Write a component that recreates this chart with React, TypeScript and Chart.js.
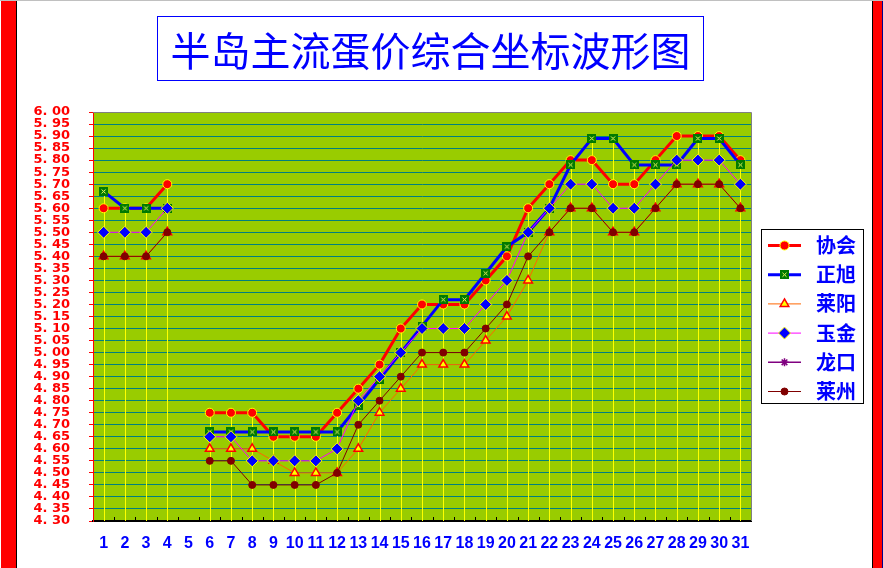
import React, { useEffect, useRef } from 'react';
import Chart from 'chart.js/auto';
import { drawPoint } from 'chart.js/helpers';

// days of the month, day 5 has no quotes
const days = ['1', '2', '3', '4', '5', '6', '7', '8', '9', '10', '11', '12', '13', '14', '15', '16',
    '17', '18', '19', '20', '21', '22', '23', '24', '25', '26', '27', '28', '29', '30', '31'];

const xiehui = [5.60, 5.60, 5.60, 5.70, null, 4.75, 4.75, 4.75, 4.65, 4.65, 4.65, 4.75, 4.85, 4.95, 5.10, 5.20,
    5.20, 5.20, 5.30, 5.40, 5.60, 5.70, 5.80, 5.80, 5.70, 5.70, 5.80, 5.90, 5.90, 5.90, 5.80];
const zhengxu = [5.67, 5.60, 5.60, 5.60, null, 4.67, 4.67, 4.67, 4.67, 4.67, 4.67, 4.67, 4.78, 4.89, 5.00, 5.11,
    5.22, 5.22, 5.33, 5.44, 5.50, 5.60, 5.78, 5.89, 5.89, 5.78, 5.78, 5.78, 5.89, 5.89, 5.78];
const laiyang = [5.40, 5.40, 5.40, 5.50, null, 4.60, 4.60, 4.60, 4.55, 4.50, 4.50, 4.50, 4.60, 4.75, 4.85, 4.95,
    4.95, 4.95, 5.05, 5.15, 5.30, 5.50, 5.60, 5.60, 5.50, 5.50, 5.60, 5.70, 5.70, 5.70, 5.60];
const yujin = [5.50, 5.50, 5.50, 5.60, null, 4.65, 4.65, 4.55, 4.55, 4.55, 4.55, 4.60, 4.80, 4.90, 5.00, 5.10,
    5.10, 5.10, 5.20, 5.30, 5.50, 5.60, 5.70, 5.70, 5.60, 5.60, 5.70, 5.80, 5.80, 5.80, 5.70];
const longkou = [null, null, null, null, null, null, null, null, null, null, null, null, null, null, null, null,
    null, null, null, null, null, null, null, null, null, null, null, null, null, null, null];
const laizhou = [5.40, 5.40, 5.40, 5.50, null, 4.55, 4.55, 4.45, 4.45, 4.45, 4.45, 4.50, 4.70, 4.80, 4.90, 5.00,
    5.00, 5.00, 5.10, 5.20, 5.40, 5.50, 5.60, 5.60, 5.50, 5.50, 5.60, 5.70, 5.70, 5.70, 5.60];

const Y_MIN = 4.3;
const Y_MAX = 6.0;
const Y_STEP = 0.05;

const TITLE = '半岛主流蛋价综合坐标波形图';

// green square with a yellow cross (正旭 marker)
const makeCrossSquare = () => {
    const c = document.createElement('canvas');
    c.width = 9;
    c.height = 9;
    const g = c.getContext('2d')!;
    g.fillStyle = '#007a00';
    g.fillRect(0, 0, 9, 9);
    g.strokeStyle = '#ffff66';
    g.lineWidth = 1;
    g.beginPath();
    g.moveTo(2.5, 2.5); g.lineTo(6.5, 6.5);
    g.moveTo(6.5, 2.5); g.lineTo(2.5, 6.5);
    g.stroke();
    return c;
};

const plotDecor = {
    id: 'plotDecor',
    beforeDraw(chart: any) {
        const { ctx, chartArea: a } = chart;
        ctx.save();
        ctx.fillStyle = '#99cc00';
        ctx.fillRect(a.left, a.top, a.right - a.left, a.bottom - a.top);
        ctx.restore();
    },
    beforeDatasetsDraw(chart: any) {
        const { ctx, chartArea: a, scales } = chart;
        const xs = scales.x, ys = scales.y;
        ctx.save();
        // drop lines from the highest value of each day
        ctx.strokeStyle = '#ffff00';
        ctx.lineWidth = 1;
        for (let i = 0; i < days.length; i++) {
            let top: number | null = null;
            chart.data.datasets.forEach((ds: any) => {
                const v = ds.data[i];
                if (v != null && (top == null || v > top)) top = v;
            });
            if (top == null) continue;
            const x = Math.round(xs.getPixelForValue(i)) + 0.5;
            ctx.beginPath();
            ctx.moveTo(x, ys.getPixelForValue(top));
            ctx.lineTo(x, a.bottom);
            ctx.stroke();
        }
        // grey frame on top / right
        ctx.strokeStyle = '#808080';
        ctx.beginPath();
        ctx.moveTo(a.left, a.top + 0.5);
        ctx.lineTo(a.right + 0.5, a.top + 0.5);
        ctx.lineTo(a.right + 0.5, a.bottom);
        ctx.stroke();
        // inward tick marks between categories
        ctx.strokeStyle = '#000000';
        for (let i = 1; i < days.length; i++) {
            const x = Math.round((xs.getPixelForValue(i - 1) + xs.getPixelForValue(i)) / 2) + 0.5;
            ctx.beginPath();
            ctx.moveTo(x, a.bottom - 4);
            ctx.lineTo(x, a.bottom);
            ctx.stroke();
        }
        ctx.restore();
    },
    afterDraw(chart: any) {
        const { ctx } = chart;
        const bx = 761.5, by = 229.5, bw = 102, bh = 174;
        ctx.save();
        ctx.fillStyle = '#ffffff';
        ctx.fillRect(bx, by, bw, bh);
        ctx.strokeStyle = '#000000';
        ctx.lineWidth = 1;
        ctx.strokeRect(bx, by, bw, bh);
        chart.data.datasets.forEach((ds: any, i: number) => {
            const y = 245.5 + i * 29.2;
            ctx.strokeStyle = ds.borderColor;
            ctx.lineWidth = ds.borderWidth;
            ctx.beginPath();
            ctx.moveTo(768, y);
            ctx.lineTo(801, y);
            ctx.stroke();
            ctx.fillStyle = ds.pointBackgroundColor;
            ctx.strokeStyle = ds.pointBorderColor;
            ctx.lineWidth = ds.pointBorderWidth;
            drawPoint(ctx, { pointStyle: ds.pointStyle, rotation: 0, radius: ds.pointRadius, borderWidth: ds.pointBorderWidth }, 784.5, y);
            ctx.fillStyle = '#0000ff';
            ctx.font = 'bold 20px "Noto Sans CJK SC"';
            ctx.textBaseline = 'middle';
            ctx.textAlign = 'left';
            ctx.fillText(ds.label, 816, y);
        });
        ctx.restore();
    },
};

const EggPriceChart = () => {
    const canvasRef = useRef<HTMLCanvasElement>(null);

    useEffect(() => {
        if (!canvasRef.current) return;
        const crossSquare = makeCrossSquare();
        const n = 6;
        const chart = new Chart(canvasRef.current, {
            type: 'line',
            data: {
                labels: days,
                datasets: [
                    { label: '协会', data: xiehui, borderColor: '#ff0000', borderWidth: 3, pointStyle: 'circle', pointRadius: 4.5, pointBackgroundColor: '#ff0000', pointBorderColor: '#ffff00', pointBorderWidth: 1, order: n },
                    { label: '正旭', data: zhengxu, borderColor: '#0000ff', borderWidth: 3, pointStyle: crossSquare, pointRadius: 4.5, pointBackgroundColor: '#007a00', pointBorderColor: '#007a00', pointBorderWidth: 0, order: n - 1 },
                    { label: '莱阳', data: laiyang, borderColor: '#ff6600', borderWidth: 1, pointStyle: 'triangle', pointRadius: 5, pointBackgroundColor: '#ffff00', pointBorderColor: '#ff0000', pointBorderWidth: 1.5, order: n - 2 },
                    { label: '玉金', data: yujin, borderColor: '#ff00ff', borderWidth: 1, pointStyle: 'rectRot', pointRadius: 6, pointBackgroundColor: '#0000ff', pointBorderColor: '#ffff00', pointBorderWidth: 1, order: n - 3 },
                    { label: '龙口', data: longkou, borderColor: '#800080', borderWidth: 1.5, pointStyle: 'star', pointRadius: 4, pointBackgroundColor: '#800080', pointBorderColor: '#800080', pointBorderWidth: 1.5, order: n - 4 },
                    { label: '莱州', data: laizhou, borderColor: '#800000', borderWidth: 1, pointStyle: 'circle', pointRadius: 3.5, pointBackgroundColor: '#800000', pointBorderColor: '#800000', pointBorderWidth: 1, order: n - 5 },
                ] as any,
            },
            options: {
                animation: false,
                responsive: false,
                events: [],
                spanGaps: false,
                elements: { line: { tension: 0 } },
                layout: { padding: { left: 33, top: 112, right: 132, bottom: 0 } },
                plugins: { legend: { display: false }, tooltip: { enabled: false }, title: { display: false } },
                scales: {
                    x: {
                        type: 'category',
                        offset: true,
                        afterFit: (s: any) => { s.height = 47; },
                        grid: { display: true, drawOnChartArea: false, drawTicks: false, color: 'transparent' },
                        border: { display: true, color: '#000000', width: 2 },
                        ticks: {
                            autoSkip: false,
                            maxRotation: 0,
                            padding: 13,
                            color: '#0000ff',
                            font: { family: '"Liberation Sans", Arial, sans-serif', size: 16, weight: 'bold' },
                        },
                    },
                    y: {
                        min: Y_MIN,
                        max: Y_MAX,
                        afterFit: (s: any) => { s.width = 60; },
                        grid: {
                            color: (c: any) => (c.index === 0 || Math.abs(c.tick.value - Y_MAX) < 1e-6 ? 'transparent' : '#008080'),
                            tickColor: '#ff0000',
                            tickLength: 4,
                            lineWidth: 1,
                        },
                        border: { display: true, color: '#ff0000', width: 1 },
                        ticks: {
                            stepSize: Y_STEP,
                            autoSkip: false,
                            padding: 19,
                            color: '#ff0000',
                            font: { family: '"DejaVu Sans", sans-serif', size: 13, weight: 'bold' },
                            callback: (v: any) => Number(v).toFixed(2).replace('.', '. '),
                        },
                    },
                },
            } as any,
            plugins: [plotDecor],
        });
        return () => chart.destroy();
    }, []);

    return <canvas ref={canvasRef} width={883} height={568} style={{ position: 'absolute', left: 0, top: 0, width: 883, height: 568 }} />;
};

export default function App() {
    useEffect(() => {
        document.body.style.margin = '0';
    }, []);

    return (
        <div style={{ position: 'relative', width: 883, height: 568, overflow: 'hidden', background: '#ffffff' }}>
            <div style={{ position: 'absolute', left: 0, top: 0, width: 883, height: 1, background: '#c0c0c0' }} />
            <EggPriceChart />
            <div style={{ position: 'absolute', left: 1, top: 1, width: 15, height: 567, background: '#ff0000', borderRight: '1px solid #000000' }} />
            <div style={{ position: 'absolute', left: 872, top: 1, width: 9, height: 567, background: '#ff0000', borderLeft: '1px solid #000000', borderRight: '1px solid #00008b' }} />
            <div style={{ position: 'absolute', left: 157, top: 16, width: 547, height: 65, boxSizing: 'border-box', border: '1px solid #0000ff' }} />
            <div style={{
                position: 'absolute', left: 157, top: 29, width: 547, height: 40, lineHeight: '40px', textAlign: 'center',
                fontFamily: '"Noto Sans CJK SC", sans-serif', fontSize: 40, color: '#0000ff', whiteSpace: 'nowrap',
            }}>
                {TITLE}
            </div>
        </div>
    );
}
